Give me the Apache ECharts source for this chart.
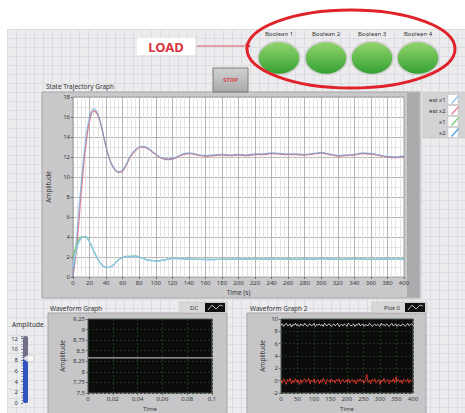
<!DOCTYPE html>
<html><head><meta charset="utf-8">
<script src="https://cdn.jsdelivr.net/npm/echarts@6/dist/echarts.min.js"></script>
<style>
html,body{margin:0;padding:0;background:#fff;}
#wrap{position:relative;width:465px;height:413px;overflow:hidden;background:#fff;}
#panel{position:absolute;left:7px;top:29px;right:0;bottom:0;background-color:#ececee;background-image:linear-gradient(#dcdce1 1px,transparent 1px),linear-gradient(90deg,#dcdce1 1px,transparent 1px);background-size:9px 9px;}
#chart{position:absolute;left:0;top:0;width:465px;height:413px;}
</style></head><body>
<div id="wrap"><div id="panel"></div><div id="chart"></div></div>
<script>
// ---- State Trajectory Graph data ----
const time = [0,5,10,15,20,25,30,35,40,45,50,55,60,65,70,75,80,85,90,95,100,105,110,115,120,125,130,135,140,145,150,
  160,170,180,190,200,210,220,230,240,250,260,270,280,290,300,310,320,330,340,350,360,370,380,390,400];
const x2 = [0,4.5,9.5,13.5,16.0,16.8,16.3,14.8,13.0,11.6,10.8,10.5,10.7,11.4,12.2,12.7,13.0,13.05,12.9,12.6,12.3,12.0,11.85,11.8,11.85,12.0,12.2,12.35,12.4,12.35,12.25,
  12.15,12.2,12.25,12.2,12.25,12.2,12.3,12.3,12.4,12.35,12.3,12.3,12.25,12.35,12.45,12.3,12.15,12.2,12.25,12.4,12.35,12.2,12.05,12.0,12.1];
const estX2 = [0,3.5,8.5,12.8,15.6,16.6,16.2,14.8,13.0,11.6,10.8,10.45,10.6,11.3,12.1,12.6,12.95,13.0,12.85,12.55,12.25,11.95,11.8,11.75,11.8,11.95,12.15,12.3,12.35,12.3,12.2,
  12.1,12.15,12.2,12.15,12.2,12.15,12.25,12.25,12.35,12.3,12.25,12.25,12.2,12.3,12.4,12.25,12.1,12.15,12.2,12.35,12.3,12.15,12.0,11.95,12.05];
const x1 = [2.0,3.3,4.0,4.0,3.5,2.6,1.8,1.2,0.95,1.0,1.3,1.7,1.95,2.05,2.05,2.1,2.0,1.85,1.7,1.65,1.6,1.62,1.7,1.8,1.85,1.85,1.85,1.8,1.8,1.78,1.78,
  1.75,1.75,1.78,1.78,1.8,1.8,1.82,1.8,1.8,1.82,1.8,1.78,1.8,1.8,1.85,1.8,1.78,1.8,1.82,1.8,1.78,1.8,1.8,1.82,1.8];
const estX1 = [1.0,3.0,3.9,4.05,3.5,2.6,1.8,1.2,0.95,1.0,1.3,1.7,1.95,2.05,2.05,2.1,2.0,1.85,1.7,1.65,1.6,1.62,1.7,1.8,1.85,1.85,1.85,1.8,1.8,1.78,1.78,
  1.75,1.75,1.78,1.78,1.8,1.8,1.82,1.8,1.8,1.82,1.8,1.78,1.8,1.8,1.85,1.8,1.78,1.8,1.82,1.8,1.78,1.8,1.8,1.82,1.8];
const mainLegend = ['est x1','est x2','x1','x2'];
const mainYTicks = {min:0, max:18, interval:2};
const mainXTicks = {min:0, max:400, interval:20};

// ---- Waveform Graph (DC) ----
const wf1Time = [0, 0.1];
const wf1Value = [8.33, 8.33];
const wf1YTicks = {min:7.5, max:9.25, interval:0.25};
const wf1XTicks = {min:0, max:0.1, interval:0.02};

// ---- Waveform Graph 2 ----
const wf2Step = 4;
const wf2White = [
9.0,9.2,8.8,9.1,9.3,8.9,9.0,9.2,8.7,9.1,
9.0,9.3,8.9,9.1,8.8,9.2,9.0,8.9,9.3,9.0,
8.8,9.1,9.2,8.9,9.0,9.3,8.8,9.1,9.0,9.2,
8.9,9.1,8.8,9.3,9.0,8.9,9.2,9.1,8.8,9.0,
9.2,8.9,9.1,9.3,8.8,9.0,9.1,8.9,9.2,9.0,
8.8,9.3,9.1,8.9,9.0,9.2,8.8,9.1,9.0,9.3,
8.9,9.0,9.2,8.8,9.1,9.0,8.9,9.3,9.1,8.8,
9.0,9.2,8.9,9.1,9.0,8.8,9.3,9.0,9.1,8.9,
9.2,9.0,8.8,9.1,9.3,8.9,9.0,9.2,8.8,9.1,
9.0,8.9,9.2,9.1,8.8,9.0,9.3,8.9,9.1,9.2,
9.0];
const wf2Red = [
0.1,-0.4,0.3,-0.2,-0.6,0.2,-0.1,0.4,-0.5,0.0,
-0.3,0.3,-0.2,0.1,-0.6,0.2,-0.4,0.0,0.3,-0.3,
-0.1,0.4,-0.5,0.1,-0.2,0.3,-0.4,0.0,0.2,-0.5,
0.1,-0.3,0.4,-0.1,-0.6,0.2,0.0,-0.3,0.3,-0.2,
0.1,-0.4,0.2,-0.1,0.3,-0.5,0.0,0.2,-0.3,0.1,
-0.2,0.3,-0.4,0.0,0.2,-0.3,0.1,-0.5,0.2,-0.1,
0.3,-0.2,0.0,-0.4,0.2,1.0,-0.3,0.1,-0.5,0.2,
-0.1,0.3,-0.4,0.0,0.2,-0.6,0.1,-0.2,0.4,-0.3,
0.0,0.2,-0.5,0.1,-0.2,0.3,-0.4,0.6,-0.1,0.2,
-0.3,0.1,-0.5,0.2,0.0,-0.2,0.3,-0.4,0.1,-0.1,
0.2];
const wf2YTicks = {min:-2, max:10, interval:2};
const wf2XTicks = {min:0, max:400, interval:50};

// ---- Amplitude slider ----
const sliderValue = 8.3;
const sliderTicks = {min:0, max:12.5, interval:2};

// ---- Boolean indicators ----
const booleanLabels = ['Boolean 1','Boolean 2','Boolean 3','Boolean 4'];

const FONT = 'Noto Sans';
const txt = {fontSize:6, color:'#3a3a3a', fontFamily:FONT};
const comma = v => String(+v.toFixed(2)).replace('.', ',');
const pair = (xs, ys) => xs.map((t,i)=>[t, ys[i]]);
const wf2Pairs = ys => ys.map((v,i)=>[i*wf2Step, v]);

const chart = echarts.init(document.getElementById('chart'), null, {renderer:'svg'});

const ledX = [279, 326, 372, 418];
const graphics = [];
// frames (under plots)
graphics.push({type:'rect', z:-10, shape:{x:42,y:92,width:378,height:206}, style:{fill:'#c9c9cb', stroke:'#a5a5a8', lineWidth:1}});
graphics.push({type:'rect', z:-9, shape:{x:407,y:93,width:12,height:204}, style:{fill:'#ababae'}});
graphics.push({type:'rect', z:-10, shape:{x:48,y:313,width:179,height:102}, style:{fill:'#c6c6c8', stroke:'#a5a5a8', lineWidth:1}});
graphics.push({type:'rect', z:-10, shape:{x:247,y:313,width:179,height:102}, style:{fill:'#c6c6c8', stroke:'#a5a5a8', lineWidth:1}});
// main legend box + icon boxes
graphics.push({type:'rect', z:-6, shape:{x:423,y:92,width:44,height:46}, style:{fill:'#d3d3d5', stroke:'#bdbdbd', lineWidth:0.5}});
mainLegend.forEach((_,i)=>{
  graphics.push({type:'rect', z:-5, shape:{x:448,y:94.5+11*i,width:10,height:10}, style:{fill:'#ffffff', stroke:'#b8b8b8', lineWidth:0.5}});
});
// titles
graphics.push({type:'text', x:46, y:86, style:{text:'State Trajectory Graph', font:'6.5px "Noto Sans"', fill:'#333', verticalAlign:'middle'}});
graphics.push({type:'text', x:50, y:308, style:{text:'Waveform Graph', font:'6.5px "Noto Sans"', fill:'#333', verticalAlign:'middle'}});
graphics.push({type:'text', x:250, y:308, style:{text:'Waveform Graph 2', font:'6.5px "Noto Sans"', fill:'#333', verticalAlign:'middle'}});
graphics.push({type:'text', x:12, y:324, style:{text:'Amplitude', font:'6.5px "Noto Sans"', fill:'#333', verticalAlign:'middle'}});
// plot legends for waveform graphs
graphics.push({type:'rect', shape:{x:180,y:302,width:47,height:11}, style:{fill:'#d8d8d8', stroke:'#b5b5b5', lineWidth:0.5}});
graphics.push({type:'text', x:190, y:307.5, style:{text:'DC', font:'6px "Noto Sans"', fill:'#333', verticalAlign:'middle'}});
graphics.push({type:'rect', shape:{x:205,y:303,width:20,height:9}, style:{fill:'#111'}});
graphics.push({type:'polyline', shape:{points:[[208,310],[212,305],[216,309],[220,305],[223,306]]}, style:{stroke:'#ddd', lineWidth:0.8, fill:null}});
graphics.push({type:'rect', shape:{x:372,y:302,width:55,height:11}, style:{fill:'#d8d8d8', stroke:'#b5b5b5', lineWidth:0.5}});
graphics.push({type:'text', x:384, y:307.5, style:{text:'Plot 0', font:'6px "Noto Sans"', fill:'#333', verticalAlign:'middle'}});
graphics.push({type:'rect', shape:{x:405,y:303,width:20,height:9}, style:{fill:'#111'}});
graphics.push({type:'polyline', shape:{points:[[408,310],[412,305],[416,309],[420,305],[423,306]]}, style:{stroke:'#ddd', lineWidth:0.8, fill:null}});
// LOAD label + arrow
graphics.push({type:'rect', shape:{x:137,y:38,width:58,height:17}, style:{fill:'#ffffff'}});
graphics.push({type:'text', x:166, y:46.5, style:{text:'LOAD', font:'bold 13px "Noto Sans"', fill:'#d8353f', align:'center', verticalAlign:'middle'}});
graphics.push({type:'line', shape:{x1:197,y1:46,x2:250,y2:46}, style:{stroke:'#d8353f', lineWidth:0.8}});
graphics.push({type:'polyline', shape:{points:[[245,43.5],[250,46],[245,48.5]]}, style:{stroke:'#d8353f', lineWidth:0.8, fill:null}});
// STOP button
graphics.push({type:'rect', shape:{x:213,y:68,width:35,height:24}, style:{fill:new echarts.graphic.LinearGradient(0,0,0,1,[{offset:0,color:'#d2d2d2'},{offset:1,color:'#a9a9a9'}]), stroke:'#7d7d7d', lineWidth:1}});
graphics.push({type:'text', x:230.5, y:80, style:{text:'STOP', font:'bold 6px "Noto Sans"', fill:'#d8454f', align:'center', verticalAlign:'middle'}});
// LEDs
booleanLabels.forEach((lab,i)=>{
  graphics.push({type:'text', x:ledX[i], y:34, style:{text:lab, font:'6px "Noto Sans"', fill:'#333', align:'center', verticalAlign:'middle'}});
  graphics.push({type:'ellipse', shape:{cx:ledX[i], cy:58, rx:21, ry:16.5}, style:{fill:new echarts.graphic.LinearGradient(0,0,0,1,[{offset:0,color:'#94d66e'},{offset:1,color:'#33a032'}]), stroke:'#cfcfcf', lineWidth:1.5}});
});
// red ellipse
graphics.push({type:'ellipse', shape:{cx:351, cy:49, rx:104, ry:39}, style:{fill:null, stroke:'#e0232a', lineWidth:3}});

const blackGrid = {show:true, lineStyle:{color:'#1d4421', width:0.8, type:[2,2]}};

chart.setOption({
  animation:false,
  textStyle:{fontFamily:FONT},
  graphic:graphics,
  legend:[{
    left:423, top:92, orient:'vertical', align:'right',
    data:mainLegend, itemWidth:9, itemHeight:9, itemGap:2,
    icon:'path://M0,9 L8,0 L9,1 L1,10 Z',
    padding:[3,7,3,6],
    textStyle:{fontSize:6, color:'#333', fontFamily:FONT}, selectedMode:false
  }],
  grid:[
    {left:73, top:97, width:331, height:180, show:true, backgroundColor:'#ffffff', borderColor:'#9a9a9a', borderWidth:1},
    {left:88, top:319, width:124, height:80, show:true, backgroundColor:'#0c0c0c', borderColor:'#555', borderWidth:1},
    {left:281, top:319, width:132, height:80, show:true, backgroundColor:'#0c0c0c', borderColor:'#555', borderWidth:1},
    {left:23, top:336, width:5, height:67, show:false}
  ],
  xAxis:[
    {gridIndex:0, type:'value', ...mainXTicks, axisLine:{show:false},
     axisTick:{show:true, length:2, lineStyle:{color:'#666'}}, axisLabel:{...txt, margin:3},
     splitLine:{lineStyle:{color:'#b3b3b3', width:1}},
     minorTick:{show:false, splitNumber:4}, minorSplitLine:{show:true, lineStyle:{color:'#e4e4e4'}},
     name:'Time (s)', nameLocation:'middle', nameGap:12, nameTextStyle:{...txt, fontSize:6.5}},
    {gridIndex:1, type:'value', ...wf1XTicks, axisLine:{show:false},
     axisTick:{show:true, length:2, lineStyle:{color:'#666'}}, axisLabel:{...txt, margin:3, formatter:comma},
     splitLine:blackGrid, name:'Time', nameLocation:'middle', nameGap:13, nameTextStyle:{...txt}},
    {gridIndex:2, type:'value', ...wf2XTicks, axisLine:{show:false},
     axisTick:{show:true, length:2, lineStyle:{color:'#666'}}, axisLabel:{...txt, margin:3},
     splitLine:blackGrid, name:'Time', nameLocation:'middle', nameGap:13, nameTextStyle:{...txt}},
    {gridIndex:3, type:'category', data:['A'], show:false}
  ],
  yAxis:[
    {gridIndex:0, type:'value', ...mainYTicks, axisLine:{show:false},
     axisTick:{show:true, length:2, lineStyle:{color:'#666'}}, axisLabel:{...txt, margin:3},
     splitLine:{lineStyle:{color:'#b3b3b3', width:1}},
     minorTick:{show:false, splitNumber:2}, minorSplitLine:{show:true, lineStyle:{color:'#e4e4e4'}},
     name:'Amplitude', nameLocation:'middle', nameGap:17, nameTextStyle:{...txt, fontSize:6.5}},
    {gridIndex:1, type:'value', ...wf1YTicks, axisLine:{show:false},
     axisTick:{show:true, length:2, lineStyle:{color:'#666'}}, axisLabel:{...txt, margin:3, formatter:comma},
     splitLine:blackGrid, name:'Amplitude', nameLocation:'middle', nameGap:22, nameTextStyle:{...txt, fontSize:6.5}},
    {gridIndex:2, type:'value', ...wf2YTicks, axisLine:{show:false},
     axisTick:{show:true, length:2, lineStyle:{color:'#666'}}, axisLabel:{...txt, margin:3},
     splitLine:blackGrid, name:'Amplitude', nameLocation:'middle', nameGap:15, nameTextStyle:{...txt, fontSize:6.5}},
    {gridIndex:3, type:'value', ...sliderTicks, axisLine:{show:false},
     axisTick:{show:true, length:2, lineStyle:{color:'#777'}},
     minorTick:{show:true, splitNumber:4, length:1.5, lineStyle:{color:'#999'}},
     axisLabel:{...txt, margin:5, showMaxLabel:false}, splitLine:{show:false}}
  ],
  series:[
    {name:'est x2', type:'line', xAxisIndex:0, yAxisIndex:0, data:pair(time, estX2), showSymbol:false, smooth:0.4,
     lineStyle:{width:1.3, color:'#e5838f'}, itemStyle:{color:'#e5838f'}},
    {name:'x2', type:'line', xAxisIndex:0, yAxisIndex:0, data:pair(time, x2), showSymbol:false, smooth:0.4,
     lineStyle:{width:1.3, color:'#4f9fdc', opacity:0.55}, itemStyle:{color:'#4f9fdc'}},
    {name:'x1', type:'line', xAxisIndex:0, yAxisIndex:0, data:pair(time, x1), showSymbol:false, smooth:0.4,
     lineStyle:{width:1.3, color:'#76c976'}, itemStyle:{color:'#76c976'}},
    {name:'est x1', type:'line', xAxisIndex:0, yAxisIndex:0, data:pair(time, estX1), showSymbol:false, smooth:0.4,
     lineStyle:{width:1.3, color:'#8cc6ec'}, itemStyle:{color:'#8cc6ec'}},
    {name:'DC', type:'line', xAxisIndex:1, yAxisIndex:1, data:pair(wf1Time, wf1Value), showSymbol:false,
     lineStyle:{width:1, color:'#d8d8d8'}},
    {name:'Plot 0', type:'line', xAxisIndex:2, yAxisIndex:2, data:wf2Pairs(wf2White), showSymbol:false,
     lineStyle:{width:0.8, color:'#f2f2f2'}},
    {name:'Plot 1', type:'line', xAxisIndex:2, yAxisIndex:2, data:wf2Pairs(wf2Red), showSymbol:false,
     lineStyle:{width:0.8, color:'#ff3b30'}},
    {name:'Amplitude', type:'bar', xAxisIndex:3, yAxisIndex:3, data:[sliderValue], barWidth:5,
     showBackground:true, backgroundStyle:{color:'#6f6f8c', borderRadius:2},
     itemStyle:{color:'#3453c3', borderRadius:[0,0,2,2]}, silent:true},
    {name:'thumb', type:'scatter', xAxisIndex:3, yAxisIndex:3, data:[['A', sliderValue]],
     symbol:'path://M0,4 L5,0 L14,0 L14,8 L5,8 Z', symbolSize:[11,6], symbolOffset:[3,0],
     itemStyle:{color:'#ffffff', borderColor:'#aaa', borderWidth:0.5}, silent:true}
  ]
});
</script></body></html>
